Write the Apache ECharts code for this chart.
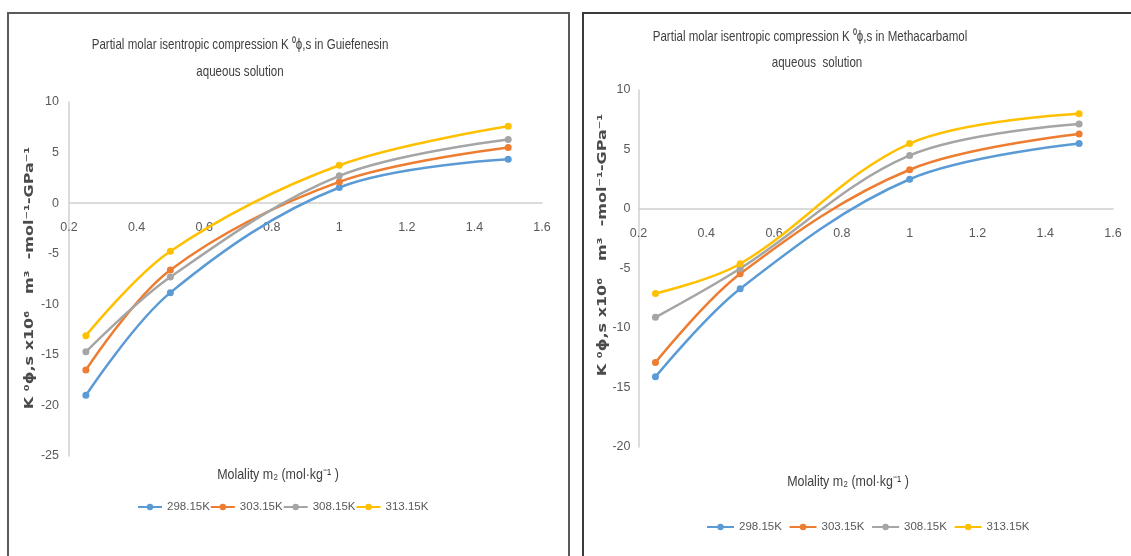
<!DOCTYPE html>
<html>
<head>
<meta charset="utf-8">
<script src="https://cdn.jsdelivr.net/npm/echarts@6/dist/echarts.min.js"></script>
<style>
  html, body { margin: 0; padding: 0; background: #ffffff; }
  #chart { width: 1131px; height: 556px; }
</style>
</head>
<body>
<div id="chart"></div>
<script>
// Molality values (mol/kg) shared by both panels
const molality = [0.25, 0.5, 1.0, 1.5];
const temperatures = ['298.15K', '303.15K', '308.15K', '313.15K'];

// Guaifenesin: K°φ,s ×10^6 per temperature
const guai298 = [-19.0, -8.85, 1.55, 4.35];
const guai303 = [-16.5, -6.6, 2.1, 5.5];
const guai308 = [-14.7, -7.3, 2.7, 6.3];
const guai313 = [-13.1, -4.75, 3.75, 7.6];

// Methocarbamol: K°φ,s ×10^6 per temperature
const meth298 = [-14.1, -6.7, 2.5, 5.5];
const meth303 = [-12.9, -5.45, 3.3, 6.3];
const meth308 = [-9.1, -5.0, 4.5, 7.15];
const meth313 = [-7.1, -4.6, 5.5, 8.0];

// Axis ranges
const xRange = { min: 0.2, max: 1.6, interval: 0.2 };
const yRangeLeft = { min: -25, max: 10, interval: 5 };
const yRangeRight = { min: -20, max: 10, interval: 5 };

const colors = ['#5B9BD5', '#ED7D31', '#A5A5A5', '#FFC000'];
const sans = '"Liberation Sans", Arial, sans-serif';
const textGrey = '#595959';
const darkGrey = '#404040';

const titleLeft = ['Partial molar isentropic compression K \u2070\u03D5,s in Guiefenesin', 'aqueous solution'];
const titleRight = ['Partial molar isentropic compression K \u2070\u03D5,s in Methacarbamol', 'aqueous  solution'];
const yName = 'K \u2070\u03D5,s x10\u2076   m\u00B3  -mol\u207B\u00B9-GPa\u207B\u00B9';
const xName = 'Molality m\u2082 (mol\u00B7kg\u207B\u00B9 )';

// Plot rectangles of the two panels
const gridLeft = { left: 69, top: 102, width: 473, height: 354 };
const gridRight = { left: 638.5, top: 90, width: 474.5, height: 357 };

function pairs(values) {
  return molality.map((m, i) => [m, values[i]]);
}

function makeSeries(name, values, idx, axisIdx) {
  return {
    name: name,
    type: 'line',
    xAxisIndex: axisIdx,
    yAxisIndex: axisIdx,
    data: pairs(values),
    smooth: 0.35,
    symbol: 'circle',
    symbolSize: 7,
    itemStyle: { color: colors[idx] },
    lineStyle: { color: colors[idx], width: 2.5 },
    z: 2 + idx
  };
}

// The x axis sits on y = 0, so shift it up from the bottom of the plot by the zero offset
function zeroOffset(grid, range) {
  return -grid.height * (0 - range.min) / (range.max - range.min);
}

function xAxisDef(gridIndex, grid, yRange) {
  return {
    type: 'value',
    gridIndex: gridIndex,
    position: 'bottom',
    offset: zeroOffset(grid, yRange),
    min: xRange.min, max: xRange.max, interval: xRange.interval,
    axisLine: { onZero: false, lineStyle: { color: '#d0d0d0', width: 1.5 } },
    axisTick: { show: false },
    splitLine: { show: false },
    axisLabel: { color: textGrey, fontFamily: sans, fontSize: 12.5, margin: 18 }
  };
}

function yAxisDef(gridIndex, range, margin) {
  return {
    type: 'value',
    gridIndex: gridIndex,
    min: range.min, max: range.max, interval: range.interval,
    axisLine: { show: true, onZero: false, lineStyle: { color: '#d0d0d0', width: 1.5 } },
    axisTick: { show: false },
    splitLine: { show: false },
    axisLabel: { color: textGrey, fontFamily: sans, fontSize: 12.5, margin: margin }
  };
}

function legendDef(seriesNames, left, top, iconW, gap) {
  return {
    data: seriesNames,
    left: left, top: top,
    padding: 0,
    orient: 'horizontal',
    itemWidth: iconW, itemHeight: 8, itemGap: gap,
    textStyle: { color: textGrey, fontFamily: sans, fontSize: 11.5 }
  };
}

function label(x, y, text, opts) {
  return {
    type: 'text',
    x: x, y: y,
    rotation: opts.rotate ? Math.PI / 2 : 0,
    scaleX: opts.scaleX || 1,
    scaleY: opts.scaleY || 1,
    style: {
      text: text,
      fill: opts.color || textGrey,
      font: opts.font,
      align: 'center', verticalAlign: 'middle',
      textAlign: 'center', textVerticalAlign: 'middle'
    },
    silent: true,
    z: 10
  };
}

// Legend entries of the right panel get a trailing space so each legend lists its own panel
const leftNames = temperatures.slice();
const rightNames = temperatures.map(t => t + ' ');

const titleFont = '15px ' + sans;
const nameFont = '15px ' + sans;
const yNameFont = 'bold 13px "DejaVu Sans", sans-serif';

const option = {
  animation: false,
  backgroundColor: '#ffffff',
  grid: [
    Object.assign({ containLabel: false }, gridLeft),
    Object.assign({ containLabel: false }, gridRight)
  ],
  xAxis: [xAxisDef(0, gridLeft, yRangeLeft), xAxisDef(1, gridRight, yRangeRight)],
  yAxis: [yAxisDef(0, yRangeLeft, 10), yAxisDef(1, yRangeRight, 8)],
  legend: [
    legendDef(leftNames, 137, 501, 24, 0),
    legendDef(rightNames, 706, 521, 27, 3.5)
  ],
  series: [
    makeSeries(leftNames[0], guai298, 0, 0),
    makeSeries(leftNames[1], guai303, 1, 0),
    makeSeries(leftNames[2], guai308, 2, 0),
    makeSeries(leftNames[3], guai313, 3, 0),
    makeSeries(rightNames[0], meth298, 0, 1),
    makeSeries(rightNames[1], meth303, 1, 1),
    makeSeries(rightNames[2], meth308, 2, 1),
    makeSeries(rightNames[3], meth313, 3, 1)
  ],
  graphic: [
    // panel frames
    { type: 'rect', shape: { x: 8, y: 13, width: 561, height: 560 },
      style: { fill: 'none', stroke: '#5a5a5a', lineWidth: 2 }, silent: true },
    { type: 'rect', shape: { x: 583, y: 13, width: 560, height: 560 },
      style: { fill: 'none', stroke: '#3a3a3a', lineWidth: 2 }, silent: true },
    // chart titles (condensed lettering)
    label(240, 45, titleLeft[0], { font: titleFont, scaleX: 0.77, color: darkGrey }),
    label(240, 72, titleLeft[1], { font: titleFont, scaleX: 0.77, color: darkGrey }),
    label(810, 37, titleRight[0], { font: titleFont, scaleX: 0.77, color: darkGrey }),
    label(817, 63, titleRight[1], { font: titleFont, scaleX: 0.77, color: darkGrey }),
    // axis titles
    label(30, 278, yName, { font: yNameFont, rotate: true, scaleX: 1.23, color: '#4a4a4a' }),
    label(603, 245, yName, { font: yNameFont, rotate: true, scaleX: 1.23, color: '#4a4a4a' }),
    label(278, 475, xName, { font: nameFont, scaleX: 0.83, color: darkGrey }),
    label(848, 482, xName, { font: nameFont, scaleX: 0.83, color: darkGrey })
  ]
};

const chart = echarts.init(document.getElementById('chart'), null, { renderer: 'canvas' });
chart.setOption(option);
</script>
</body>
</html>
